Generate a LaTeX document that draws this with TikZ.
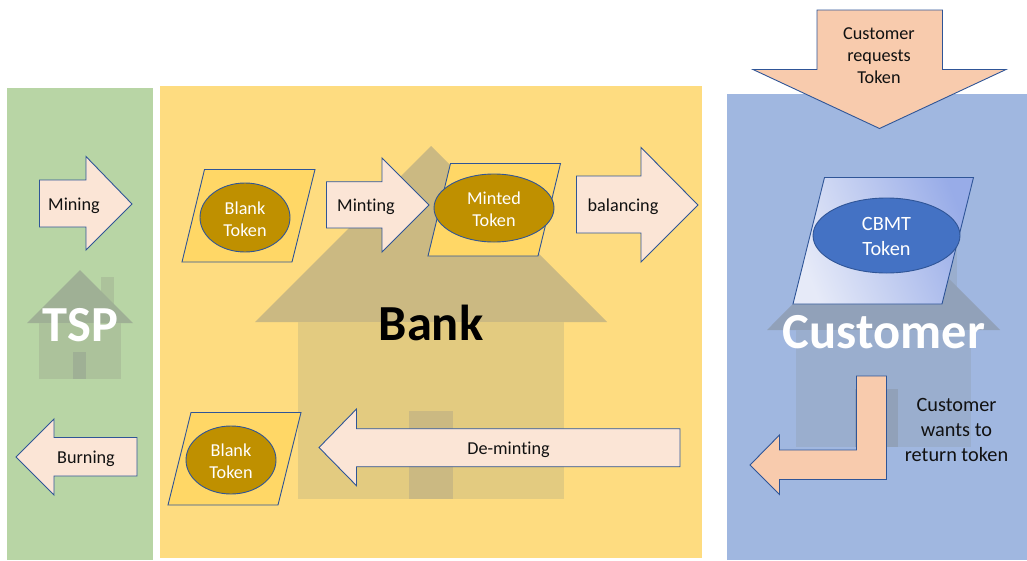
\documentclass[tikz,border=0pt]{standalone}
\usepackage{fontspec}
\setmainfont[Ligatures=NoCommon]{Carlito}
\usetikzlibrary{shapes.geometric}
\definecolor{tsppanel}{HTML}{B8D5A5}
\definecolor{bankpanel}{HTML}{FEDC80}
\definecolor{custpanel}{HTML}{A0B7E0}
\definecolor{bankroof}{HTML}{CBB982}
\definecolor{bankbody}{HTML}{E3CB80}
\definecolor{tsproof}{HTML}{9FB095}
\definecolor{tspbody}{HTML}{ACC29B}
\definecolor{custroof}{HTML}{91A1B9}
\definecolor{custbody}{HTML}{9AAECE}
\definecolor{edgeblue}{HTML}{2F5597}
\definecolor{lightarrow}{HTML}{FBE5D6}
\definecolor{peacharrow}{HTML}{F8CBAD}
\definecolor{tokenpaper}{HTML}{FFD766}
\definecolor{goldtoken}{HTML}{BF9000}
\definecolor{bluetoken}{HTML}{4472C4}
\definecolor{inktext}{HTML}{111111}
\definecolor{shadelow}{HTML}{E6EAF8}
\definecolor{shadehigh}{HTML}{98ACE8}
\tikzset{
  lightblock/.style={draw=edgeblue,line width=0.9pt,fill=lightarrow,line join=miter},
  peachblock/.style={draw=edgeblue,line width=0.9pt,fill=peacharrow,line join=miter},
  paper/.style={draw=edgeblue,line width=0.9pt,fill=tokenpaper},
  tokenoval/.style={ellipse,draw=edgeblue,line width=0.9pt,inner sep=0pt,minimum width=#1},
  textlabel/.style={font=\fontsize{18.2}{22}\selectfont,text=inktext,align=center,inner sep=0pt},
  tokentext/.style={font=\fontsize{18.2}{22}\selectfont,text=white,align=center},
  bigtitle/.style={font=\fontsize{#1}{#1}\selectfont\bfseries,inner sep=0pt},
}
\begin{document}
\begin{tikzpicture}[x=1pt,y=-1pt]
\useasboundingbox (0,0) rectangle (1027,560);
% panels
\fill[tsppanel] (7,88) rectangle (153,560);
\fill[bankpanel] (160,86) rectangle (702,558);
\fill[custpanel] (727,94) rectangle (1027,560);
% TSP house
\fill[tspbody] (101,277) rectangle (114,305);
\fill[tsproof] (80,270) -- (133,323) -- (27,323) -- cycle;
\fill[tspbody] (39,323) rectangle (121,379);
\fill[tsproof] (73,352) rectangle (86,379);
% Bank house
\fill[bankroof] (431,146) -- (607,322) -- (255,322) -- cycle;
\fill[bankbody] (298,322) rectangle (563.5,499);
\fill[bankroof] (409,411) rectangle (453,499);
% Customer house
\fill[custbody] (944,240) rectangle (957,290);
\fill[custroof] (883.5,213) -- (1000,330) -- (767,330) -- cycle;
\fill[custbody] (796,330) rectangle (971,447);
\fill[custroof] (855,389) rectangle (898,447);
% titles
\node[bigtitle=50.5,text=white] (tsp) at (80.5,325) {TSP};
\node[bigtitle=50.5,text=black] (bank) at (431,323) {Bank};
\node[bigtitle=50.5,text=white] (customer) at (884,332) {Customer};
% TSP arrows
\draw[lightblock] (39.5,180) -- (86,180) -- (86,156.5) -- (132,204) -- (86,250) -- (86,227) -- (39.5,227) -- cycle;
\node[textlabel] (mining) at (74,206) {Mining};
\draw[lightblock] (137,437.5) -- (54,437.5) -- (54,419) -- (16,457) -- (54,495) -- (54,476) -- (137,476) -- cycle;
\node[textlabel] (burning) at (86,459) {Burning};
% Blank token 1
\draw[paper] (204.5,169.5) -- (315,169.5) -- (292,262) -- (182,262) -- cycle;
\node[tokenoval=90pt,minimum height=69pt,fill=goldtoken] (blankA) at (245,217.5) {};
\node[tokentext] (blankAt) at (245,219) {Blank\\Token};
% Minting
\draw[lightblock] (326.5,181.7) -- (382,181.7) -- (382,158) -- (429,205) -- (382,252) -- (382,228) -- (326.5,228) -- cycle;
\node[textlabel] (minting) at (366,206.5) {Minting};
% Minted token
\draw[paper] (450.5,163.5) -- (560.5,163.5) -- (538,256) -- (428,256) -- cycle;
\node[tokenoval=120pt,minimum height=68pt,fill=goldtoken] (minted) at (494,208) {};
\node[tokentext] (mintedt) at (494,209) {Minted\\Token};
% balancing
\draw[lightblock] (576.5,176) -- (641,176) -- (641,147.5) -- (698,205) -- (641,262) -- (641,233) -- (576.5,233) -- cycle;
\node[textlabel] (balancing) at (623,206.5) {balancing};
% Blank token 2
\draw[paper] (191,412.5) -- (301,412.5) -- (278,505) -- (168,505) -- cycle;
\node[tokenoval=90pt,minimum height=68pt,fill=goldtoken] (blankB) at (231,460) {};
\node[tokentext] (blankBt) at (231,461.5) {Blank\\Token};
% De-minting
\draw[lightblock] (680,428.7) -- (356.5,428.7) -- (356.5,409) -- (319,447.5) -- (356.5,485.7) -- (356.5,466.7) -- (680,466.7) -- cycle;
\node[textlabel] (deminting) at (508.5,450) {De-minting};
% Customer requests
\draw[peachblock] (817,10) -- (942.5,10) -- (942.5,69.5) -- (1006,69.5) -- (879.5,128.5) -- (753,69.5) -- (817,69.5) -- cycle;
\node[textlabel] (requests) at (879,56) {Customer\\requests\\Token};
% CBMT token
\path[left color=shadelow,right color=shadehigh,shading angle=112] (824.5,177.5) -- (973.5,177.5) -- (942,304) -- (793,304) -- cycle;
\draw[edgeblue,line width=0.9pt] (824.5,177.5) -- (973.5,177.5) -- (942,304) -- (793,304) -- cycle;
\node[tokenoval=147pt,minimum height=75pt,fill=bluetoken] (cbmt) at (886.5,235.5) {};
\node[tokentext,font=\fontsize{20.3}{25}\selectfont] (cbmtt) at (886.5,236.5) {CBMT\\Token};
% Return arrow
\draw[peachblock] (856.5,376) -- (886.5,376) -- (886.5,479.5) -- (779.5,479.5) -- (779.5,494.5) -- (750,465) -- (779.5,435) -- (779.5,450) -- (856.5,450) -- cycle;
\node[textlabel,font=\fontsize{20.3}{25}\selectfont] (returns) at (956.5,430) {Customer\\wants to\\return token};
\end{tikzpicture}
\end{document}
